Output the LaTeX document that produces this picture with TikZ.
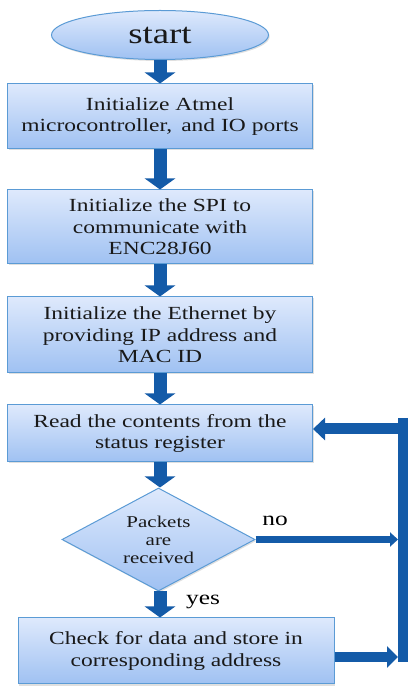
\documentclass[tikz,border=0pt]{standalone}
\usepackage{fontspec}
\setmainfont{Liberation Serif}[FakeStretch=1.27]
\usetikzlibrary{arrows.meta,shapes.geometric,shadows}

\definecolor{boxedge}{HTML}{5B9BD5}
\definecolor{boxtop}{HTML}{DEE9FC}
\definecolor{boxbot}{HTML}{9FC1F2}
\definecolor{flowblue}{HTML}{145BA8}

\tikzset{
	box/.style={draw=boxedge, line width=1pt, top color=boxtop, bottom color=boxbot,
		align=center, inner sep=0pt, text=black!90,
		font=\fontsize{18.5}{21.6}\selectfont,
		drop shadow={opacity=0.25, shadow xshift=1.2pt, shadow yshift=-1.5pt}},
	flow/.style={draw=flowblue, line width=13pt, -{Triangle[width=30pt,length=11pt]}},
	loopback/.style={draw=flowblue, line width=#1}
}

\begin{document}
\begin{tikzpicture}[x=1pt, y=1pt]

\def\cx{160}
\def\barx{403}

\path [use as bounding box] (0,0) rectangle (409,686);

% STEPS
\node [box, ellipse, minimum width=217pt, minimum height=49pt,
	font=\fontsize{29}{32}\selectfont] (start) at (\cx,651) {start};
\node [box, minimum width=305pt, minimum height=65pt] (atmel) at (\cx,569.5)
	{Initialize Atmel\\microcontroller,\, and IO ports};
\node [box, minimum width=305pt, minimum height=74pt] (spi) at (\cx,459)
	{Initialize the SPI to\\communicate with\\ENC28J60};
\node [box, minimum width=305pt, minimum height=76pt] (ether) at (\cx,351)
	{Initialize the Ethernet by\\providing IP address and\\MAC ID};
\node [box, minimum width=305pt, minimum height=57pt] (status) at (\cx,252.5)
	{Read the contents from the\\status register};
\node [box, diamond, aspect=1.87, minimum width=193pt, minimum height=103pt,
	font=\fontsize{16.5}{18}\selectfont] (packets) at (158.5,146.5)
	{Packets\\are\\received};
\node [box, minimum width=316pt, minimum height=66pt] (store) at (176,35)
	{Check for data and store in\\corresponding address};

% DOWNWARD FLOW
\draw [flow] (start.south) -- (atmel.north);
\draw [flow] (atmel.south) -- (spi.north);
\draw [flow] (spi.south) -- (ether.north);
\draw [flow] (ether.south) -- (status.north);
\draw [flow] (status.south -| \cx,0) -- (\cx,0 |- packets.north);
\draw [flow] (\cx,0 |- packets.south) -- (\cx,0 |- store.north);

% LOOP BACK
\coordinate (bartop) at (\barx,268);
\coordinate (barbot) at (\barx,24);
\coordinate (barleft) at (398,146.5);
\coordinate (fbtop) at (\barx,257);
\coordinate (fbbot) at (\barx,29);

\draw [loopback=10pt] (bartop) -- (barbot);
\draw [loopback=11pt, -{Triangle[width=22pt,length=12pt]}]
	(fbtop) -- (fbtop -| status.east);
\draw [loopback=7pt, -{Triangle[width=14pt,length=8pt]}]
	(packets.east) -- (packets.east -| barleft);
\draw [loopback=9.5pt, -{Triangle[width=21pt,length=11pt]}]
	(store.east |- fbbot) -- (fbbot -| barleft);

% LABELS
\node [font=\fontsize{20}{24}\selectfont] (no) at (275,165) {no};
\node [font=\fontsize{20}{24}\selectfont] (yes) at (203,84) {yes};

\end{tikzpicture}
\end{document}
